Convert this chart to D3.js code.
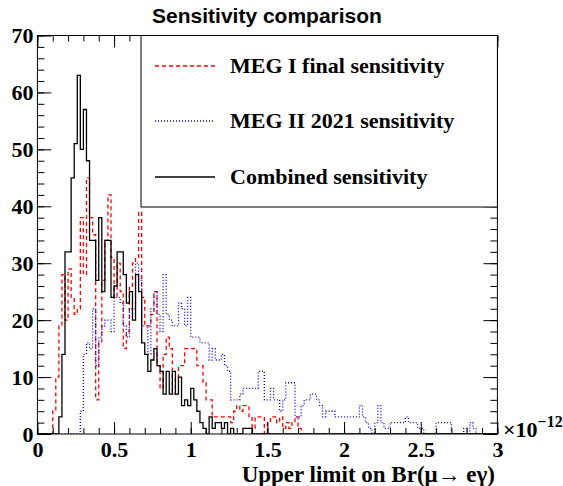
<!DOCTYPE html>
<html>
<head>
<meta charset="utf-8">
<script src="https://cdn.jsdelivr.net/npm/d3@7"></script>
<style>
body { margin: 0; background: #fff; }
</style>
</head>
<body>
<div id="chart"></div>
<script>
// bin width in units of 1e-12, 150 bins from 0 to 3
const binWidth = 0.02;

const combined = [
    0, 0, 0, 0, 0, 0, 0, 3, 14, 32, 32, 45, 51, 63, 50, 57, 48, 34, 34, 27,
    38, 25, 34, 34, 24, 26, 32, 32, 28, 23, 25, 20, 28, 25, 16, 14, 11, 13, 15, 12,
    11, 7, 11, 7, 11, 7, 10, 5, 6, 5, 8, 6, 4, 2, 1, 0, 3, 1, 2, 2,
    1, 2, 0, 1, 0, 0, 0, 1, 1, 1, 0, 0, 0, 0, 0, 0, 0, 0, 0, 0,
    0, 0, 0, 0, 0, 0, 0, 0, 0, 0, 0, 0, 0, 0, 0, 0, 0, 0, 0, 0,
    0, 0, 0, 0, 0, 0, 0, 0, 0, 0, 0, 0, 0, 0, 0, 0, 0, 0, 0, 0,
    0, 0, 0, 0, 0, 0, 0, 0, 0, 0, 0, 0, 0, 0, 0, 0, 0, 0, 0, 0,
    0, 0, 0, 0, 0, 0, 0, 0, 0, 0
];

const megI = [
    0, 0, 0, 0, 0, 4, 10, 19, 28, 20, 29, 24, 21, 22, 38, 28, 45, 38, 35, 6,
    16, 27, 34, 42, 31, 24, 30, 25, 15, 18, 26, 30, 31, 39, 24, 19, 19, 21, 25, 12,
    8, 14, 17, 15, 7, 10, 12, 12, 15, 15, 15, 15, 12, 12, 9, 6, 6, 3, 3, 3,
    3, 3, 3, 2, 4, 5, 4, 5, 5, 3, 1, 3, 3, 3, 0, 2, 3, 3, 2, 3,
    1, 2, 1, 2, 3, 1, 0, 0, 0, 0, 0, 0, 0, 0, 0, 0, 0, 0, 0, 0,
    0, 0, 0, 0, 0, 0, 0, 0, 0, 0, 0, 0, 0, 0, 0, 0, 0, 0, 0, 0,
    0, 0, 0, 0, 0, 0, 0, 0, 0, 0, 0, 0, 0, 0, 0, 0, 0, 0, 0, 0,
    0, 0, 0, 0, 0, 0, 0, 0, 0, 0
];

const megII = [
    0, 0, 0, 0, 0, 0, 0, 0, 0, 0, 0, 0, 0, 0, 4, 14, 16, 15, 22, 12,
    17, 19, 20, 20, 18, 24, 24, 23, 19, 17, 22, 22, 30, 27, 19, 19, 14, 22, 25, 21,
    18, 28, 21, 20, 19, 19, 23, 22, 19, 24, 17, 17, 17, 16, 16, 16, 13, 15, 13, 13,
    14, 12, 11, 6, 6, 6, 7, 8, 8, 8, 8, 8, 11, 11, 6, 6, 8, 6, 6, 4,
    6, 9, 9, 9, 3, 3, 5, 6, 6, 7, 7, 6, 5, 3, 4, 4, 4, 3, 3, 3,
    3, 3, 3, 3, 3, 5, 3, 2, 1, 0, 2, 5, 2, 1, 1, 2, 2, 2, 2, 2,
    3, 2, 2, 2, 1, 1, 0, 0, 0, 0, 2, 2, 2, 2, 2, 0, 0, 0, 0, 1,
    0, 2, 1, 0, 0, 0, 0, 0, 0, 0
];

const xTicks = [0, 0.5, 1, 1.5, 2, 2.5, 3];
const yTicks = [0, 10, 20, 30, 40, 50, 60, 70];
const legendLabels = ['MEG I final sensitivity', 'MEG II 2021 sensitivity', 'Combined sensitivity'];

const width = 563;
const height = 486;
const frame = { left: 37.4, right: 497.4, top: 35.5, bottom: 434 };
const serif = "'Liberation Serif', 'Times New Roman', serif";

const svg = d3.select('#chart')
    .append('svg')
    .attr('width', width)
    .attr('height', height)
    .style('display', 'block');

svg.append('rect').attr('width', width).attr('height', height).attr('fill', '#fff');

const xScale = d3.scaleLinear().domain([0, 3]).range([frame.left, frame.right]);
const yScale = d3.scaleLinear().domain([0, 70]).range([frame.bottom, frame.top]);

svg.append('defs').append('clipPath').attr('id', 'plot-clip')
    .append('rect')
    .attr('x', frame.left).attr('y', frame.top)
    .attr('width', frame.right - frame.left).attr('height', frame.bottom - frame.top);

// histograms
const stepLine = d3.line()
    .x(d => xScale(d[0]))
    .y(d => yScale(d[1]))
    .curve(d3.curveStepAfter);

const toSteps = (vals) => {
    const pts = vals.map((v, i) => [i * binWidth, v]);
    pts.push([vals.length * binWidth, vals[vals.length - 1]]);
    return pts;
};

const series = [
    { vals: megI, color: '#ff0000', dash: '4,3' },
    { vals: megII, color: '#0000ff', dash: '1,2' },
    { vals: combined, color: '#000000', dash: null }
];

const plot = svg.append('g').attr('clip-path', 'url(#plot-clip)');
series.forEach(s => {
    plot.append('path')
        .attr('d', stepLine(toSteps(s.vals)))
        .attr('fill', 'none')
        .attr('stroke', s.color)
        .attr('stroke-width', 1.3)
        .attr('stroke-dasharray', s.dash);
});

// axes: ticks pointing inside the frame, like ROOT
const xMinor = xScale.ticks(30);
const yMinor = yScale.ticks(35);

const styleAxis = (g) => {
    g.select('.domain').remove();
    g.selectAll('line').attr('stroke', '#000').attr('stroke-width', 1);
    g.selectAll('text')
        .attr('fill', '#000')
        .style('font-family', serif)
        .style('font-weight', 'bold')
        .style('font-size', '22px');
};
// axes without labels: drop the empty text nodes
const ticksOnly = (g) => {
    g.select('.domain').remove();
    g.selectAll('text').remove();
    g.selectAll('line').attr('stroke', '#000').attr('stroke-width', 1);
};

svg.append('g')
    .attr('transform', `translate(0, ${frame.bottom})`)
    .call(d3.axisBottom(xScale).tickValues(xMinor).tickSize(-6))
    .call(ticksOnly);
svg.append('g')
    .attr('id', 'x-axis')
    .attr('transform', `translate(0, ${frame.bottom})`)
    .call(d3.axisBottom(xScale).tickValues(xTicks).tickSize(-12).tickPadding(7.5).tickFormat(d3.format('')))
    .call(styleAxis);

svg.append('g')
    .attr('transform', `translate(0, ${frame.top})`)
    .call(d3.axisTop(xScale).tickValues(xMinor).tickSize(-6))
    .call(ticksOnly);
svg.append('g')
    .attr('transform', `translate(0, ${frame.top})`)
    .call(d3.axisTop(xScale).tickValues(xTicks).tickSize(-12))
    .call(ticksOnly);

svg.append('g')
    .attr('transform', `translate(${frame.left}, 0)`)
    .call(d3.axisLeft(yScale).tickValues(yMinor).tickSize(-7))
    .call(ticksOnly);
svg.append('g')
    .attr('id', 'y-axis')
    .attr('transform', `translate(${frame.left}, 0)`)
    .call(d3.axisLeft(yScale).tickValues(yTicks).tickSize(-14).tickPadding(4))
    .call(styleAxis);

svg.append('g')
    .attr('transform', `translate(${frame.right}, 0)`)
    .call(d3.axisRight(yScale).tickValues(yMinor).tickSize(-7))
    .call(ticksOnly);
svg.append('g')
    .attr('transform', `translate(${frame.right}, 0)`)
    .call(d3.axisRight(yScale).tickValues(yTicks).tickSize(-14))
    .call(ticksOnly);

svg.append('rect')
    .attr('x', frame.left).attr('y', frame.top)
    .attr('width', frame.right - frame.left).attr('height', frame.bottom - frame.top)
    .attr('fill', 'none').attr('stroke', '#000').attr('stroke-width', 1);

// exponent
const expo = svg.append('text')
    .attr('x', 503).attr('y', 437)
    .style('font-family', serif).style('font-weight', 'bold').style('font-size', '22px');
expo.append('tspan').text('×10');
expo.append('tspan').attr('dy', -10).style('font-size', '16px').text('−12');

// axis title
svg.append('text')
    .attr('x', 495).attr('y', 482)
    .attr('text-anchor', 'end')
    .style('font-family', serif).style('font-weight', 'bold').style('font-size', '23px')
    .text('Upper limit on Br(μ→ eγ)');

// title
svg.append('text')
    .attr('x', 267).attr('y', 23)
    .attr('text-anchor', 'middle')
    .style('font-family', "'Liberation Sans', Arial, sans-serif")
    .style('font-weight', 'bold').style('font-size', '21px')
    .text('Sensitivity comparison');

// legend
const legend = svg.append('g');
legend.append('rect')
    .attr('x', 141).attr('y', frame.top)
    .attr('width', frame.right - 141).attr('height', 207 - frame.top)
    .attr('fill', '#fff').attr('stroke', '#000').attr('stroke-width', 1);

const legendY = [66, 121, 177];
legendLabels.forEach((label, i) => {
    const s = series[i];
    legend.append('line')
        .attr('x1', 155).attr('x2', 215)
        .attr('y1', legendY[i]).attr('y2', legendY[i])
        .attr('stroke', s.color).attr('stroke-width', 1.3)
        .attr('stroke-dasharray', s.dash);
    legend.append('text')
        .attr('x', 230).attr('y', legendY[i] + 7)
        .style('font-family', serif).style('font-weight', 'bold').style('font-size', '22px')
        .text(label);
});
</script>
</body>
</html>
